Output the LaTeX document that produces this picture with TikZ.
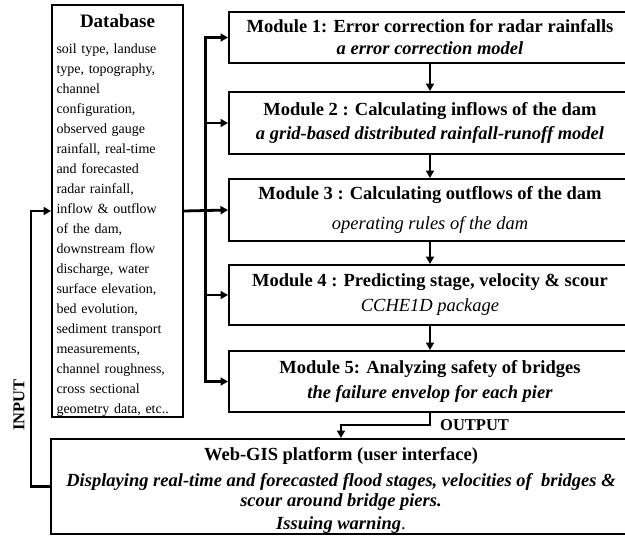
\documentclass[tikz,border=0pt]{standalone}
\usepackage{fontspec}
\setmainfont{Liberation Serif}
\usetikzlibrary{arrows.meta,positioning,calc}

\begin{document}
\begin{tikzpicture}[
  x=1pt,y=-1pt,
  >={Triangle[length=7.5pt,width=8pt]},
  box/.style={draw,line width=2pt,inner sep=0pt,align=center},
  module/.style={box,minimum width=402pt,font=\fontsize{18.5}{22}\selectfont},
  line/.style={->,line width=2.8pt},
  lbl/.style={font=\fontsize{16.5}{18}\selectfont\bfseries,inner sep=0pt}
]
\useasboundingbox (0,0) rectangle (625,536);

% Database of model inputs
\node[box,minimum width=131pt,minimum height=402pt,text width=122pt,align=left,
  font=\fontsize{14}{20}\selectfont] (db) at (117.5,211) {%
  \makebox[\linewidth]{\rule{0pt}{23pt}\fontsize{19}{22}\selectfont\bfseries Database}\\[6pt]
  soil type, landuse\\ type, topography,\\ channel\\ configuration,\\
  observed gauge\\ rainfall, real-time\\ and forecasted\\ radar rainfall,\\
  inflow \& outflow\\ of the dam,\\ downstream flow\\ discharge, water\\
  surface elevation,\\ bed evolution,\\ sediment transport\\ measurements,\\
  channel roughness,\\ cross sectional\\ geometry data, etc..};

% Modules of the system
\node[module,minimum height=51pt] (m1) at (430,37.5)
  {\textbf{Module 1: Error correction for radar rainfalls}\\
   \textbf{\textit{a error correction model}}};
\node[module,minimum height=62pt] (m2) at (430,123)
  {\textbf{Module 2 : Calculating inflows of the dam}\\[2pt]
   \textbf{\textit{a grid-based distributed rainfall-runoff model}}};
\node[module,minimum height=62pt] (m3) at (430,210)
  {\textbf{Module 3 : Calculating outflows of the dam}\\[8pt]
   \textit{operating rules of the dam}};
\node[module,minimum height=60pt] (m4) at (430,295)
  {\textbf{Module 4 : Predicting stage, velocity \& scour}\\[3pt]
   \textit{CCHE1D package}};
\node[module,minimum height=61pt] (m5) at (430,381.5)
  {\textbf{Module 5: Analyzing safety of bridges}\\[3pt]
   \textbf{\textit{the failure envelop for each pier}}};

% User interface
\node[box,minimum width=580pt,minimum height=95pt,font=\fontsize{18.5}{22}\selectfont] (web) at (341,486.5)
  {\rule{0pt}{20pt}\textbf{Web-GIS platform (user interface)}\\[4pt]
   \textbf{\textit{Displaying real-time and forecasted flood stages, velocities of\ \ bridges \&}}\\[-2pt]
   \textbf{\textit{scour around bridge piers.}}\\[1pt]
   \textbf{\textit{Issuing warning}}.};

% Data distribution
\draw[line] (db.east) -- (m3.west);
\coordinate (bus) at ($(db.east)!0.48!(m3.west)$);
\draw[line] (bus) |- (m1.west);
\draw[line] (bus) |- (m5.west);
\foreach \m in {m2,m4}
  \draw[line] (bus |- \m.west) -- (\m.west);
\foreach \a/\b in {m1/m2,m2/m3,m3/m4,m4/m5}
  \draw[line] (\a.south) -- (\b.north);

% Output and input loop
\draw[line] (m5.south) -- ++(0,12) coordinate (outbend) -| (web.north);
\node[lbl,anchor=west] (output) at ([xshift=10pt]outbend) {OUTPUT};
\draw[line] (web.west) -- ++(-19,0) coordinate (inbend) |- (db.west);
\node[lbl,rotate=90] (input) at (19,405) {INPUT};
\end{tikzpicture}
\end{document}
